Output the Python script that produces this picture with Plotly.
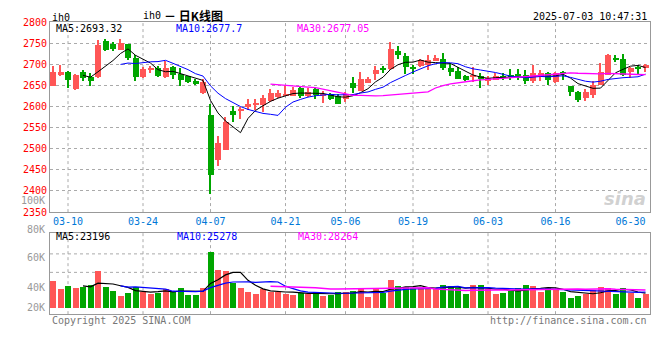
import plotly.graph_objects as go
import pandas as pd

# ---------------- data ----------------
dates = ["03-06","03-07","03-10","03-11","03-12","03-13","03-14","03-17","03-18","03-19",
         "03-20","03-21","03-24","03-25","03-26","03-27","03-28","03-31",
         "04-01","04-02","04-03","04-07","04-08","04-09","04-10","04-11","04-14","04-15",
         "04-16","04-17","04-18","04-21","04-22","04-23","04-24","04-25","04-28","04-29","04-30",
         "05-06","05-07","05-08","05-09","05-12","05-13","05-14","05-15","05-16","05-19",
         "05-20","05-21","05-22","05-23","05-26","05-27","05-28","05-29","05-30",
         "06-03","06-04","06-05","06-06","06-09","06-10","06-11","06-12","06-13","06-16",
         "06-17","06-18","06-19","06-20","06-23","06-24","06-25","06-26","06-27","06-30",
         "07-01","07-02"]

open_ = [2649.6,2676.5,2681.0,2640.4,2681.0,2669.6,2669.6,2755.3,2747.7,2734.6,
         2747.7,2715.5,2669.6,2688.0,2691.0,2669.6,2693.2,2675.8,2671.2,2660.4,
         2631.2,2580.6,2474.0,2497.0,2589.0,2589.8,2599.0,2603.6,2603.6,2612.0,
         2623.6,2625.9,2625.9,2644.3,2625.2,2640.4,2625.0,2629.0,2625.0,2617.4,
         2655.8,2636.7,2655.8,2677.6,2692.0,2688.0,2732.3,2720.0,2694.0,2697.0,
         2697.8,2708.0,2713.0,2692.0,2684.0,2672.5,2670.0,2671.0,2660.0,2663.4,
         2672.5,2674.8,2674.8,2674.8,2659.7,2669.0,2678.7,2657.4,2682.6,2649.6,
         2634.4,2619.0,2626.6,2651.9,2674.8,2715.5,2713.0,2682.6,2692.0,2690.0]
high = [2695.5,2697.8,2683.0,2676.0,2686.0,2678.7,2757.6,2760.0,2753.0,2760.0,
        2749.0,2722.4,2694.0,2695.5,2697.0,2707.0,2695.5,2690.0,2672.5,2665.0,
        2664.0,2606.0,2529.3,2575.0,2602.0,2598.0,2617.4,2617.0,2626.6,2642.0,
        2638.0,2648.0,2646.0,2648.0,2644.0,2644.0,2636.6,2633.0,2630.0,2635.0,
        2669.6,2681.0,2670.0,2696.5,2695.5,2752.0,2743.0,2727.0,2698.0,2712.0,
        2720.8,2723.0,2727.0,2703.0,2694.0,2675.0,2694.0,2678.7,2671.0,2678.7,
        2680.0,2688.0,2688.0,2686.0,2697.8,2686.0,2682.6,2682.6,2685.0,2649.6,
        2636.7,2640.4,2661.0,2704.0,2724.7,2723.0,2724.7,2694.0,2695.5,2701.7]
low = [2649.0,2672.5,2644.3,2639.0,2661.0,2648.0,2667.0,2732.3,2732.0,2733.0,
       2709.0,2661.0,2668.0,2678.7,2669.6,2668.0,2665.6,2648.0,2655.8,2651.0,
       2630.0,2393.7,2458.0,2496.0,2563.8,2571.4,2590.7,2592.0,2586.8,2611.0,
       2621.0,2625.0,2625.0,2621.0,2623.6,2617.0,2608.0,2615.0,2605.0,2609.8,
       2632.8,2636.0,2655.0,2662.0,2680.0,2686.0,2713.0,2676.5,2676.5,2694.0,
       2686.3,2707.0,2686.0,2672.5,2665.0,2661.0,2657.0,2642.7,2652.0,2663.0,
       2663.0,2663.4,2663.4,2654.0,2655.8,2659.7,2652.0,2655.8,2662.0,2625.0,
       2609.8,2613.7,2619.7,2651.0,2674.0,2705.6,2671.0,2667.0,2677.6,2682.6]
close = [2682.7,2681.0,2663.4,2674.2,2667.0,2661.0,2745.4,2734.6,2736.2,2750.0,
         2715.5,2669.6,2688.0,2691.0,2671.8,2691.0,2674.2,2662.7,2658.8,2654.2,
         2658.8,2437.4,2514.0,2563.8,2580.6,2594.4,2606.0,2608.2,2619.0,2632.8,
         2632.8,2630.5,2638.0,2625.2,2635.0,2627.5,2629.0,2617.4,2606.0,2630.5,
         2644.3,2665.0,2665.0,2686.3,2686.3,2736.0,2720.8,2694.0,2688.0,2711.0,
         2711.0,2715.5,2690.0,2681.7,2665.0,2663.4,2672.5,2665.6,2667.0,2672.5,
         2669.6,2671.0,2672.5,2659.7,2680.3,2680.3,2663.4,2678.7,2678.7,2635.0,
         2615.0,2634.4,2651.9,2681.0,2722.4,2709.3,2674.8,2690.0,2689.6,2697.8]
volume = [44500,30200,35000,31800,33400,37000,60400,33400,27000,19100,
          23900,33400,25400,22300,23900,30200,25400,31800,20700,20700,
          31800,90600,62000,60400,41300,31800,25400,22300,30200,25400,
          25400,22300,20700,23900,22300,25400,19100,20700,25400,25400,
          27000,30200,17500,30200,23900,46100,35000,33400,31800,31800,
          30200,30200,38200,35000,31800,22300,36600,36600,30200,22300,
          23900,27000,31800,36600,35000,25400,31800,30200,25400,15900,
          19100,22300,28600,33400,31800,22300,31800,23900,15900,22300]

tick_labels = ["03-10","03-24","04-07","04-21","05-06","05-19","06-03","06-16","06-30"]
price_ticks = [2350,2400,2450,2500,2550,2600,2650,2700,2750,2800]
vol_tick_labels = ["100K","80K","60K","40K","20K"]

header_ma = ["MA5:2693.32","MA10:2677.7","MA30:2677.05"]
header_vol = ["MA5:23196","MA10:25278","MA30:28264"]

# ---------------- derived ----------------
s_close = pd.Series(close)
s_vol = pd.Series(volume)
ma5 = s_close.rolling(5).mean()
ma10 = s_close.rolling(10).mean()
ma30 = s_close.rolling(30).mean()
vma5 = s_vol.rolling(5).mean()
vma10 = s_vol.rolling(10).mean()
vma30 = s_vol.rolling(30).mean()

RED = "#FF5656"
GREEN = "#00A600"
cols = [RED if c >= o else GREEN for o, c in zip(open_, close)]
body_base = [min(o, c) for o, c in zip(open_, close)]
body_h = [max(abs(c - o), 0.8) for o, c in zip(open_, close)]
wick_h = [h - l for h, l in zip(high, low)]

W, H = 660, 360
def px(x): return x / W
def py(y): return 1 - y / H

MONO = "DejaVu Sans Mono"

fig = go.Figure()
fig.add_trace(go.Bar(x=dates, y=wick_h, base=low, width=0.14,
                     marker=dict(color=cols, line=dict(width=0)),
                     xaxis="x", yaxis="y", hoverinfo="skip"))
fig.add_trace(go.Bar(x=dates, y=body_h, base=body_base, width=0.8,
                     marker=dict(color=cols, line=dict(width=0)),
                     xaxis="x", yaxis="y"))
for ser, col, wd in [(ma5, "black", 1), (ma10, "#0000FF", 1), (ma30, "#FF00FF", 1.3)]:
    fig.add_trace(go.Scatter(x=dates, y=ser, mode="lines",
                             line=dict(color=col, width=wd), xaxis="x", yaxis="y"))

fig.add_trace(go.Bar(x=dates, y=volume, width=0.8,
                     marker=dict(color=cols, line=dict(width=0)),
                     xaxis="x2", yaxis="y2"))
for ser, col, wd in [(vma5, "black", 1.2), (vma10, "#0000FF", 1.2), (vma30, "#FF00FF", 1.5)]:
    fig.add_trace(go.Scatter(x=dates, y=ser, mode="lines",
                             line=dict(color=col, width=wd), xaxis="x2", yaxis="y2"))

AX = "#999999"
GRID = "#AAAAAA"

shapes = []
for t in tick_labels[:-1]:
    for yr in ["y domain", "y2 domain"]:
        shapes.append(dict(type="line", xref="x", yref=yr, x0=t, x1=t, y0=0, y1=1,
                           line=dict(color=GRID, width=1, dash="dot"), layer="below"))
for yy in [256, 275]:
    shapes.append(dict(type="line", xref="paper", yref="paper", x0=px(50), x1=px(650),
                       y0=py(yy), y1=py(yy), line=dict(color=GRID, width=1, dash="dot"),
                       layer="below"))

ann = []
def text(x, y, s, color="black", size=10, xanchor="left", family=MONO):
    ann.append(dict(x=px(x), y=py(y), xref="paper", yref="paper", text=s, showarrow=False,
                    xanchor=xanchor, yanchor="middle",
                    font=dict(family=family, size=size, color=color)))

text(50, 12.5, "ih0")
text(141, 11, "ih0", size=10)
text(162, 11, "<b>－ 日K线图</b>", size=12, family="Noto Sans CJK SC")
text(649, 11.5, "2025-07-03 10:47:31", xanchor="right")
text(54, 24, header_ma[0], "black")
text(174, 24, header_ma[1], "#0000FF")
text(295, 24, header_ma[2], "#FF00FF")
text(54, 238.5, header_vol[0], "black")
text(175, 238.5, header_vol[1], "#0000FF")
text(296, 238.5, header_vol[2], "#FF00FF")
for lab, yy in zip(vol_tick_labels, [201, 231, 260, 291, 311]):
    text(47, yy, lab, "#999999", xanchor="right")
text(50, 324, "Copyright 2025 SINA.COM", "#777777")
text(649, 324, "http://finance.sina.com.cn", "#777777", xanchor="right")
text(648, 199, "<b><i>sina</i></b>", "rgba(170,170,170,0.55)", size=18,
     xanchor="right", family="DejaVu Sans")

fig.update_layout(
    width=W, height=H, margin=dict(l=0, r=0, t=0, b=0),
    paper_bgcolor="white", plot_bgcolor="white",
    barmode="overlay", showlegend=False, bargap=0,
    shapes=shapes, annotations=ann,
    xaxis=dict(domain=[px(50), px(650)], type="category", range=[-0.4, 79.6],
               tickmode="array", tickvals=tick_labels, ticktext=tick_labels,
               tickfont=dict(family=MONO, size=10, color="#0078D7"),
               showgrid=False, showline=True, mirror=True, linecolor=AX, linewidth=1,
               ticks="", anchor="y", fixedrange=True),
    xaxis2=dict(domain=[px(50), px(650)], type="category", range=[-0.4, 79.6],
                matches="x", showticklabels=False, showgrid=False, showline=True,
                mirror=True, linecolor=AX, linewidth=1, ticks="", anchor="y2"),
    yaxis=dict(domain=[py(213), py(17.5)], range=[2350, 2800],
               tickmode="array", tickvals=price_ticks,
               tickfont=dict(family=MONO, size=10, color="#FF0000"),
               showgrid=True, gridcolor=GRID, griddash="dot", gridwidth=1,
               showline=True, mirror=True, linecolor=AX, linewidth=1,
               zeroline=False, ticks="", anchor="x"),
    yaxis2=dict(domain=[py(318), py(234)], range=[-11130, 122430],
                showticklabels=False, showgrid=False, zeroline=False,
                showline=True, mirror=True, linecolor=AX, linewidth=1,
                ticks="", anchor="x2"),
)

fig.write_html("out.html", config={"displayModeBar": False},
               post_script="document.body.style.margin='0px';")
